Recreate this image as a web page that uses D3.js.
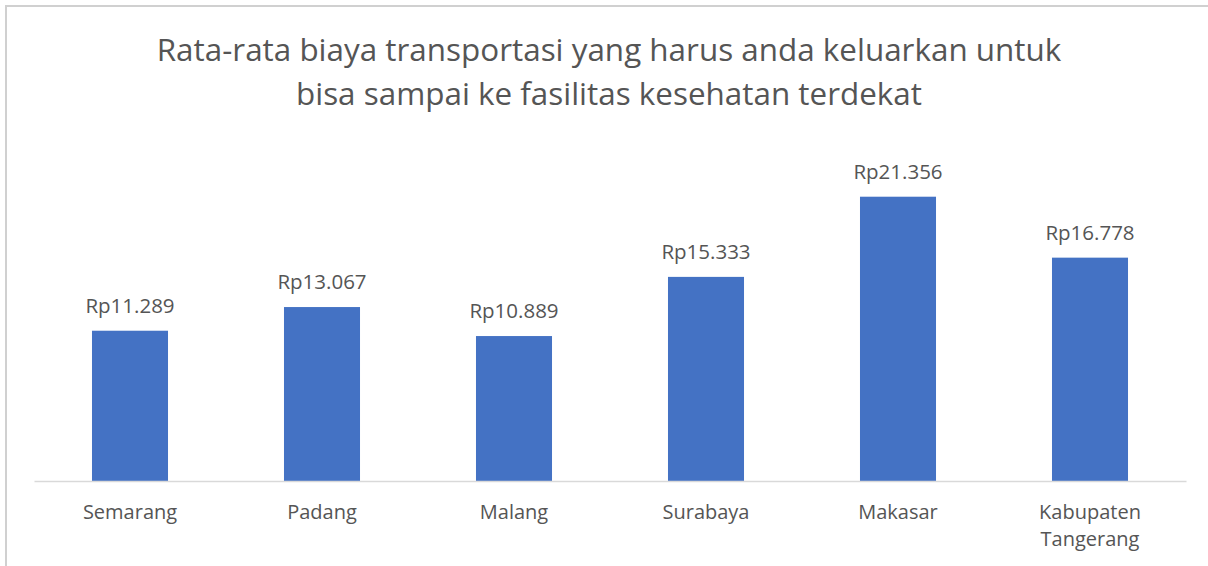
<!DOCTYPE html>
<html>
<head>
<meta charset="utf-8">
<script src="https://cdn.jsdelivr.net/npm/d3@7"></script>
<style>
  html, body { margin: 0; padding: 0; background: #fff; }
  svg { display: block; }
  text { font-family: "Open Sans", "Noto Sans", sans-serif; fill: #555555; }
</style>
</head>
<body>
<svg id="chart" width="1208" height="566"></svg>
<script>
const titleLines = ["Rata-rata biaya transportasi yang harus anda keluarkan untuk", "bisa sampai ke fasilitas kesehatan terdekat"];
const categories = [["Semarang"], ["Padang"], ["Malang"], ["Surabaya"], ["Makasar"], ["Kabupaten", "Tangerang"]];
const values = [11289, 13067, 10889, 15333, 21356, 16778];
const valueLabels = ["Rp11.289", "Rp13.067", "Rp10.889", "Rp15.333", "Rp21.356", "Rp16.778"];

const W = 1208, H = 566;
const svg = d3.select("#chart");

// chart frame (top and left edges visible)
svg.append("line").attr("x1", 5).attr("x2", W).attr("y1", 6).attr("y2", 6)
  .attr("stroke", "#d0d0d0").attr("stroke-width", 2);
svg.append("line").attr("x1", 6).attr("x2", 6).attr("y1", 5).attr("y2", H)
  .attr("stroke", "#d0d0d0").attr("stroke-width", 2);

const plot = { left: 34, right: 1186, bottom: 481 };
const x = d3.scaleBand().domain(d3.range(values.length)).range([plot.left, plot.right]).paddingInner(0.604).paddingOuter(0.302);
const y = d3.scaleLinear().domain([0, 25000]).range([plot.bottom, plot.bottom - 332.8]);

// title
const tl = svg.append("g").selectAll("text").data(titleLines).join("text")
  .attr("x", 609).attr("y", (d, i) => 61 + i * 44)
  .attr("text-anchor", "middle")
  .style("font-size", "30px")
  .text(d => d);
const w0 = tl.nodes()[0].getComputedTextLength();
tl.style("font-size", (30 * 905 / w0) + "px");

// bars
svg.append("g").selectAll("rect").data(values).join("rect")
  .attr("x", (d, i) => x(i))
  .attr("width", x.bandwidth())
  .attr("y", d => y(d))
  .attr("height", d => y(0) - y(d))
  .attr("fill", "#4472C4");

// baseline axis
const axis = d3.axisBottom(x).tickSize(0).tickFormat("");
const ag = svg.append("g").attr("transform", `translate(0,${plot.bottom})`).call(axis);
ag.select(".domain").attr("stroke", "#d9d9d9").attr("stroke-width", 1.5);

// category labels
const cg = svg.append("g").selectAll("text").data(categories).join("text")
  .attr("x", (d, i) => x(i) + x.bandwidth() / 2)
  .attr("y", 519)
  .attr("text-anchor", "middle")
  .style("font-size", "20px");
cg.selectAll("tspan").data(d => d).join("tspan")
  .attr("x", function() { return d3.select(this.parentNode).attr("x"); })
  .attr("dy", (d, i) => i === 0 ? 0 : 27)
  .text(d => d);

// value labels
svg.append("g").selectAll("text").data(values).join("text")
  .attr("x", (d, i) => x(i) + x.bandwidth() / 2)
  .attr("y", d => y(d) - 18)
  .attr("text-anchor", "middle")
  .style("font-size", "20.5px")
  .text((d, i) => valueLabels[i]);
</script>
</body>
</html>
